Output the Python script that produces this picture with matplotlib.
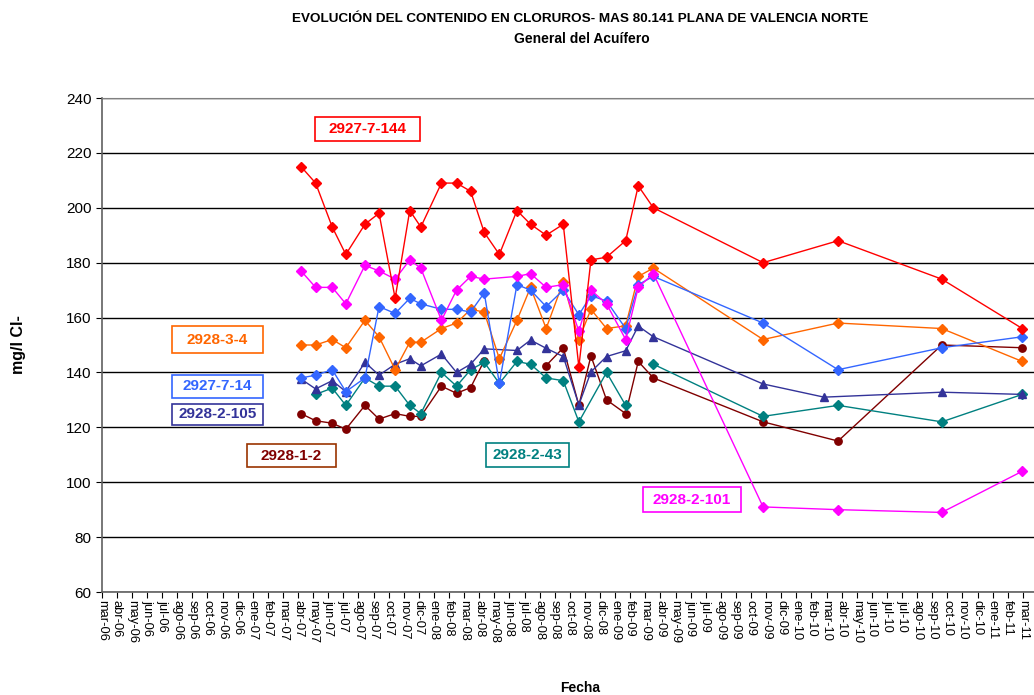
import numpy as np
import pandas as pd
import matplotlib
matplotlib.use('Agg')
import matplotlib.pyplot as plt
import matplotlib.dates as mdates
from matplotlib.patches import Rectangle

plt.rcParams['font.family'] = ['Liberation Sans', 'DejaVu Sans']

# fechas de muestreo (comunes a casi todos los puntos)
fechas = ['2007-04-24', '2007-05-23', '2007-06-25', '2007-07-22', '2007-08-29', '2007-09-26',
          '2007-10-28', '2007-11-26', '2007-12-18', '2008-01-28', '2008-02-27', '2008-03-26',
          '2008-04-22', '2008-05-22', '2008-06-26', '2008-07-23', '2008-08-23', '2008-09-26',
          '2008-10-27', '2008-11-20', '2008-12-21', '2009-01-28', '2009-02-22', '2009-03-24',
          '2009-10-28', '2010-03-26', '2010-10-18', '2011-03-27']
fechas_105 = fechas[:25] + ['2010-02-26'] + fechas[26:]

# mg/l Cl-  (None = sin dato)
p2927_7_144 = [215, 209, 193, 183, 194, 198, 167, 199, 193, 209, 209, 206, 191, 183, 199, 194,
               190, 194, 142, 181, 182, 188, 208, 200, 180, 188, 174, 156]
p2928_2_101 = [177, 171, 171, 165, 179, 177, 174, 181, 178, 159, 170, 175, 174, None, 175, 176,
               171, 172, 155, 170, 165, 152, 171, 176, 91, 90, 89, 104]
p2927_7_14 = [138, 139, 141, 133, 138, 164, 161.5, 167, 165, 163, 163, 162, 169, 136, 172, 170,
              164, 170, 161, 168, 166, 156, 172, 175, 158, 141, 149, 153]
p2928_3_4 = [150, 150, 152, 149, 159, 153, 141, 151, 151, 156, 158, 163, 162, 145, 159, 171,
             156, 173, 152, 163, 156, 157, 175, 178, 152, 158, 156, 144]
p2928_2_105 = [137.6, 134, 137, 133, 143.7, 139, 143, 145, 142.4, 146.7, 140, 143, 148.6, None,
               148, 151.8, 148.8, 145.8, 128.2, 140.2, 145.8, 147.9, 156.9, 153, 135.8, 131,
               132.8, 132]
p2928_2_43 = [None, 132, 134.3, 128, 138, 135, 135, 128, 125, 140, 135, 141, 143.7, 136, 144, 143,
              138, 137, 122, None, 140, 128, None, 143, 124, 128, 122, 132]
p2928_1_2 = [125, 122.4, 121.5, 119.3, 128, 123, 125, 124, 124, 135, 132.4, 134.5, 144.3, None,
             None, None, 142.5, 149, 128, 146, 130, 125, 144, 138, 122, 115, 150, 149]

# indices donde la linea se corta
huecos_43 = [22]
huecos_1_2 = [13, 14, 15]

series = [
    ('2928-1-2', fechas, p2928_1_2, huecos_1_2, '#800000', 'o', 5.3),
    ('2928-2-43', fechas, p2928_2_43, huecos_43, '#008080', 'D', 4.6),
    ('2928-2-105', fechas_105, p2928_2_105, [], '#333399', '^', 6.3),
    ('2928-3-4', fechas, p2928_3_4, [], '#FF6600', 'D', 4.6),
    ('2927-7-14', fechas, p2927_7_14, [], '#3366FF', 'D', 4.6),
    ('2928-2-101', fechas, p2928_2_101, [], '#FF00FF', 'D', 4.6),
    ('2927-7-144', fechas, p2927_7_144, [], '#FF0000', 'D', 4.6),
]

etiquetas = [
    ('2927-7-144', '#FF0000', '#FF0000', 315, 117, 105, 24),
    ('2928-3-4', '#FF6600', '#FF6600', 172, 326, 91, 27),
    ('2927-7-14', '#3366FF', '#3366FF', 172, 375, 91, 23),
    ('2928-2-105', '#333399', '#333399', 172, 404, 91, 21),
    ('2928-1-2', '#800000', '#993300', 247, 444, 89, 23),
    ('2928-2-43', '#008080', '#008080', 486, 443, 83, 24),
    ('2928-2-101', '#FF00FF', '#FF00FF', 643, 487, 98, 25),
]

W, H = 1034, 695
fig = plt.figure(figsize=(W / 100, H / 100), dpi=100)
ax = fig.add_axes([101.7 / W, (H - 592) / H, (1060 - 101.7) / W, (592 - 98) / H])

x0 = mdates.date2num(pd.Timestamp('2006-03-24'))
px_dia = 15.1 / 30.0

for nombre, fx, vals, huecos, col, mk, ms in series:
    xs, ys = [], []
    for i, (f, v) in enumerate(zip(fx, vals)):
        if v is None:
            if i in huecos:
                xs.append(np.nan)
                ys.append(np.nan)
            continue
        xs.append(mdates.date2num(pd.Timestamp(f)))
        ys.append(v)
    ax.plot(xs, ys, color=col, lw=1.0, marker=mk, ms=ms, mec=col, mfc=col, zorder=3)

ax.set_ylim(60, 240)
ax.set_yticks(np.arange(60, 241, 20))
ax.set_xlim(x0, x0 + (1060 - 101.7) / px_dia)
ax.set_xticks(x0 + 30 * np.arange(0, 64))

meses = ['ene', 'feb', 'mar', 'abr', 'may', 'jun', 'jul', 'ago', 'sep', 'oct', 'nov', 'dic']


def fmt_fecha(x, pos=None):
    d = mdates.num2date(x)
    return '%s-%02d' % (meses[d.month - 1], d.year % 100)


ax.xaxis.set_major_formatter(matplotlib.ticker.FuncFormatter(fmt_fecha))
ax.tick_params(axis='x', labelrotation=-90, labelsize=9.3, direction='out', length=4, pad=2)
ax.tick_params(axis='y', labelsize=11, direction='out', length=4)
for lab in ax.get_xticklabels():
    lab.set_va('top')
    lab.set_ha('center')

ax.grid(axis='y', color='black', lw=1.0)
ax.set_axisbelow(True)
ax.spines['right'].set_visible(False)
ax.spines['top'].set_color('#808080')
ax.spines['left'].set_color('#606060')
ax.spines['bottom'].set_color('#606060')
ax.spines['left'].set_linewidth(1.2)
ax.spines['bottom'].set_linewidth(1.2)

for txt, col, borde, bx, by, bw, bh in etiquetas:
    r = Rectangle((bx / W, 1 - (by + bh) / H), bw / W, bh / H, transform=fig.transFigure,
                  facecolor='white', edgecolor=borde, lw=1.2, zorder=5)
    fig.patches.append(r)
    fig.text((bx + bw / 2) / W, 1 - (by + bh / 2) / H, txt, color=col, fontsize=11,
             fontweight='bold', ha='center', va='center', zorder=6)

fig.text(580 / W, 1 - 19 / H, 'EVOLUCIÓN DEL CONTENIDO EN CLORUROS- MAS 80.141 PLANA DE VALENCIA NORTE',
         ha='center', va='center', fontsize=9.7, fontweight='bold')
fig.text(582 / W, 1 - 39 / H, 'General del Acuífero', ha='center', va='center', fontsize=10,
         fontweight='bold')
fig.text(18 / W, 1 - 345 / H, 'mg/l Cl-', rotation=90, ha='center', va='center', fontsize=11.5,
         fontweight='bold')
fig.text(580 / W, 1 - 688 / H, 'Fecha', ha='center', va='center', fontsize=10, fontweight='bold')

fig.savefig('out.png', dpi=100)
